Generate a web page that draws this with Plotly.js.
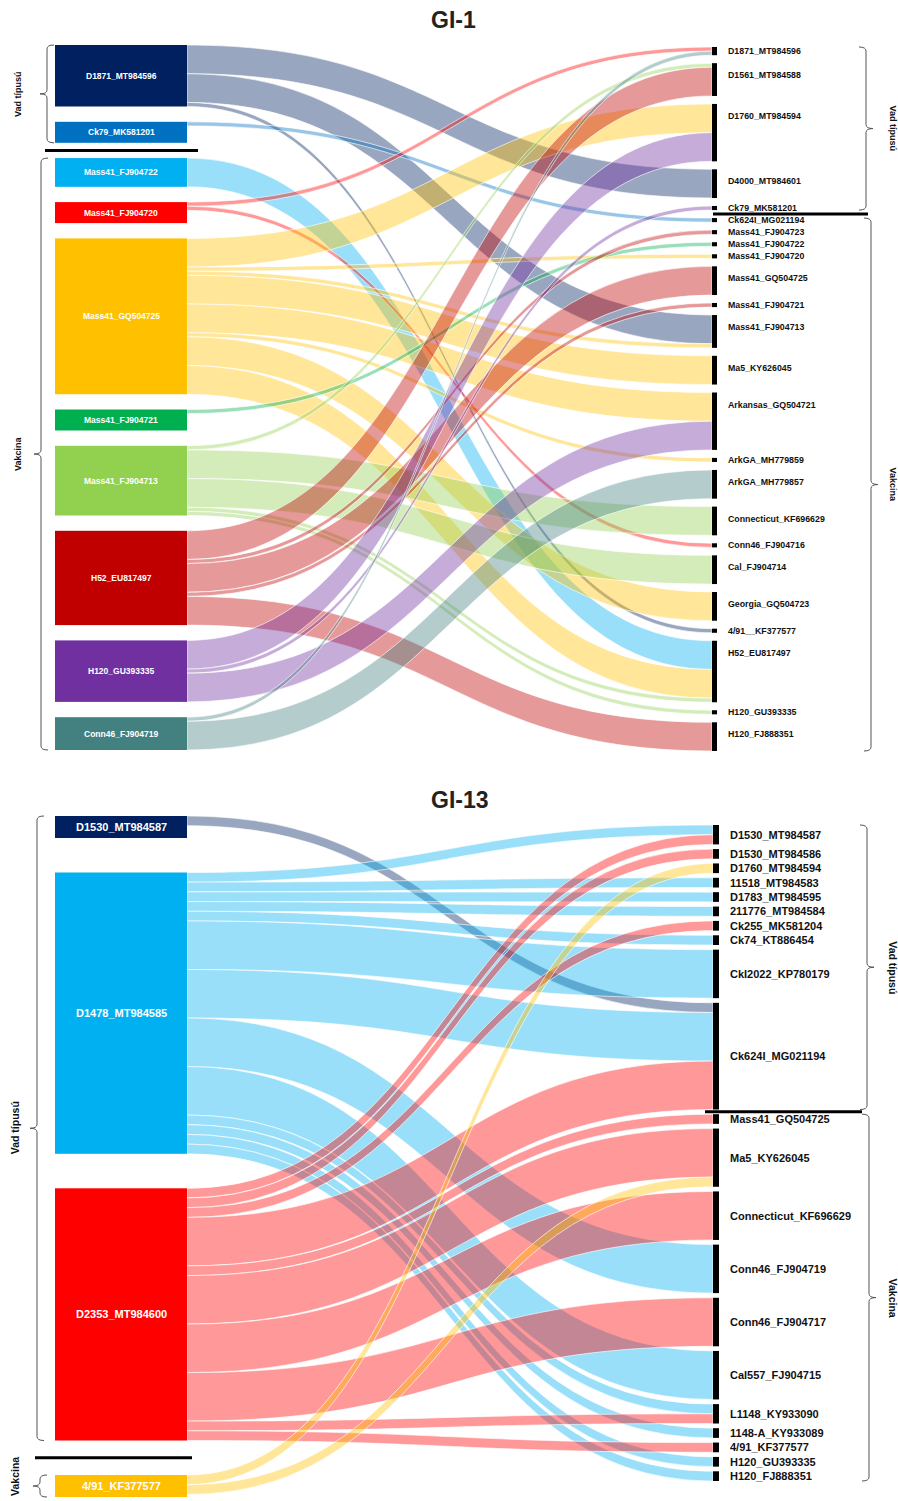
<!DOCTYPE html>
<html><head><meta charset="utf-8">
<script src="https://cdn.plot.ly/plotly-3.0.1.min.js"></script>
<style>html,body{margin:0;padding:0;background:#fff}#chart{width:898px;height:1501px}</style>
</head><body><div id="chart"></div>
<script>
// ================= DATA: GI-1 =================
const gi1Left = ['D1871_MT984596','Ck79_MK581201','Mass41_FJ904722','Mass41_FJ904720','Mass41_GQ504725','Mass41_FJ904721','Mass41_FJ904713','H52_EU817497','H120_GU393335','Conn46_FJ904719'];
const gi1LeftGroup = ['Vad típusú','Vad típusú','Vakcina','Vakcina','Vakcina','Vakcina','Vakcina','Vakcina','Vakcina','Vakcina'];
const gi1LeftColor = ['#002060','#0070C0','#00B0F0','#FF0000','#FFC000','#00B050','#92D050','#C00000','#7030A0','#438080'];
const gi1Right = ['D1871_MT984596','D1561_MT984588','D1760_MT984594','D4000_MT984601','Ck79_MK581201','Ck624I_MG021194','Mass41_FJ904723','Mass41_FJ904722','Mass41_FJ904720','Mass41_GQ504725','Mass41_FJ904721','Mass41_FJ904713','Ma5_KY626045','Arkansas_GQ504721','ArkGA_MH779859','ArkGA_MH779857','Connecticut_KF696629','Conn46_FJ904716','Cal_FJ904714','Georgia_GQ504723','4/91__KF377577','H52_EU817497','H120_GU393335','H120_FJ888351'];
const gi1RightGroup = ['Vad típusú','Vad típusú','Vad típusú','Vad típusú','Vad típusú','Vakcina','Vakcina','Vakcina','Vakcina','Vakcina','Vakcina','Vakcina','Vakcina','Vakcina','Vakcina','Vakcina','Vakcina','Vakcina','Vakcina','Vakcina','Vakcina','Vakcina','Vakcina','Vakcina'];
const gi1Source = ['D1871_MT984596','D1871_MT984596','D1871_MT984596','Ck79_MK581201','Mass41_FJ904722','Mass41_FJ904720','Mass41_FJ904720','Mass41_GQ504725','Mass41_GQ504725','Mass41_GQ504725','Mass41_GQ504725','Mass41_GQ504725','Mass41_GQ504725','Mass41_GQ504725','Mass41_GQ504725','Mass41_FJ904721','Mass41_FJ904713','Mass41_FJ904713','Mass41_FJ904713','Mass41_FJ904713','Mass41_FJ904713','H52_EU817497','H52_EU817497','H52_EU817497','H52_EU817497','H52_EU817497','H120_GU393335','H120_GU393335','H120_GU393335','Conn46_FJ904719','Conn46_FJ904719'];
const gi1Target = ['D4000_MT984601','Mass41_FJ904713','4/91__KF377577','Ck624I_MG021194','H52_EU817497','D1871_MT984596','Conn46_FJ904716','D1760_MT984594','Mass41_FJ904720','Mass41_FJ904713','Ma5_KY626045','Arkansas_GQ504721','ArkGA_MH779859','Georgia_GQ504723','H52_EU817497','Mass41_FJ904722','D1561_MT984588','Connecticut_KF696629','Cal_FJ904714','H52_EU817497','H120_GU393335','D1561_MT984588','Mass41_FJ904723','Mass41_GQ504725','Mass41_FJ904721','H120_FJ888351','D1760_MT984594','Ck79_MK581201','Arkansas_GQ504721','D1871_MT984596','ArkGA_MH779857'];
const gi1Value = [7,7,1,1,7,1,1,7,1,1,7,7,1,7,7,1,1,7,7,1,1,7,1,7,1,7,7,1,7,1,7];

// ================= DATA: GI-13 =================
const gi13Left = ['D1530_MT984587','D1478_MT984585','D2353_MT984600','4/91_KF377577'];
const gi13LeftGroup = ['Vad típusú','Vad típusú','Vad típusú','Vakcina'];
const gi13LeftColor = ['#002060','#00B0F0','#FF0000','#FFC000'];
const gi13Right = ['D1530_MT984587','D1530_MT984586','D1760_MT984594','11518_MT984583','D1783_MT984595','211776_MT984584','Ck255_MK581204','Ck74_KT886454','CkI2022_KP780179','Ck624I_MG021194','Mass41_GQ504725','Ma5_KY626045','Connecticut_KF696629','Conn46_FJ904719','Conn46_FJ904717','Cal557_FJ904715','L1148_KY933090','1148-A_KY933089','4/91_KF377577','H120_GU393335','H120_FJ888351'];
const gi13RightGroup = ['Vad típusú','Vad típusú','Vad típusú','Vad típusú','Vad típusú','Vad típusú','Vad típusú','Vad típusú','Vad típusú','Vad típusú','Vakcina','Vakcina','Vakcina','Vakcina','Vakcina','Vakcina','Vakcina','Vakcina','Vakcina','Vakcina','Vakcina'];
const gi13Source = ['D1530_MT984587','D1478_MT984585','D1478_MT984585','D1478_MT984585','D1478_MT984585','D1478_MT984585','D1478_MT984585','D1478_MT984585','D1478_MT984585','D1478_MT984585','D1478_MT984585','D1478_MT984585','D1478_MT984585','D1478_MT984585','D2353_MT984600','D2353_MT984600','D2353_MT984600','D2353_MT984600','D2353_MT984600','D2353_MT984600','D2353_MT984600','D2353_MT984600','D2353_MT984600','D2353_MT984600','4/91_KF377577','4/91_KF377577'];
const gi13Target = ['Ck624I_MG021194','D1530_MT984587','11518_MT984583','D1783_MT984595','211776_MT984584','Ck74_KT886454','CkI2022_KP780179','Ck624I_MG021194','Conn46_FJ904719','Cal557_FJ904715','L1148_KY933090','1148-A_KY933089','H120_GU393335','H120_FJ888351','D1530_MT984587','D1530_MT984586','Ck255_MK581204','Ck624I_MG021194','Mass41_GQ504725','Ma5_KY626045','Connecticut_KF696629','Conn46_FJ904717','L1148_KY933090','4/91_KF377577','D1760_MT984594','Ma5_KY626045'];
const gi13Value = [1,1,1,1,1,1,5,5,5,5,1,1,1,1,1,1,1,5,1,5,5,5,1,1,1,1];

// ================= RENDERING =================
const FONT = 'Liberation Sans, Arial, sans-serif';
const W = 898, HT = 1501;
const X = p => p / W, Y = p => 1 - p / HT;
const sum = a => a.reduce((s, v) => s + v, 0);
const CLEAR = 'rgba(0,0,0,0)';
function rgba(hex, a) { const n = parseInt(hex.slice(1), 16); return `rgba(${(n >> 16) & 255},${(n >> 8) & 255},${n & 255},${a})`; }

const diagrams = [
  { title: 'GI-1', titleX: 453, titleY: 20,
    left: gi1Left, leftGroup: gi1LeftGroup, leftColor: gi1LeftColor, right: gi1Right, rightGroup: gi1RightGroup,
    src: gi1Source, tgt: gi1Target, val: gi1Value,
    domTop: 45, domBottom: 752, leftTop: 45, leftBottom: 750, rightTop: 47, rightBottom: 751,
    unitPx: 4.1, minBoxPx: 21, boxLeft: 55, boxWidth: 132, barLeft: 712, barWidth: 5,
    labelX: 726, labelSize: 8.8, boxLabelSize: 8.5, labelCap: 12,
    sepLeft: [45, 198], sepRight: [713, 868],
    braceLeftX: { 'Vad típusú': 47, 'Vakcina': 41 }, braceRightX: { 'Vad típusú': 866, 'Vakcina': 871 },
    braceLabelLeftX: 18, braceLabelRightX: 893, braceLabelSize: 9 },
  { title: 'GI-13', titleX: 460, titleY: 800,
    left: gi13Left, leftGroup: gi13LeftGroup, leftColor: gi13LeftColor, right: gi13Right, rightGroup: gi13RightGroup,
    src: gi13Source, tgt: gi13Target, val: gi13Value,
    domTop: 816, domBottom: 1497, leftTop: 816, leftBottom: 1497, rightTop: 825, rightBottom: 1481,
    unitPx: 9.7, minBoxPx: 22, boxLeft: 55, boxWidth: 132, barLeft: 713, barWidth: 6,
    labelX: 728, labelSize: 11, boxLabelSize: 11, labelCap: Infinity,
    sepLeft: [35, 192], sepRight: [705, 862],
    braceLeftX: { 'Vad típusú': 37, 'Vakcina': 40 }, braceRightX: { 'Vad típusú': 867, 'Vakcina': 869 },
    braceLabelLeftX: 15, braceLabelRightX: 893, braceLabelSize: 10.5 }
];

const traces = [], annotations = [], shapes = [];

function bracePath(x, top, bot, dir) {
  const mid = (top + bot) / 2, hook = 7 * dir, tip = 7 * dir, r = 4;
  return `M${X(x + hook)},${Y(top)} Q${X(x)},${Y(top)} ${X(x)},${Y(top + r)} L${X(x)},${Y(mid - r)} ` +
    `Q${X(x)},${Y(mid)} ${X(x - tip)},${Y(mid)} Q${X(x)},${Y(mid)} ${X(x)},${Y(mid + r)} ` +
    `L${X(x)},${Y(bot - r)} Q${X(x)},${Y(bot)} ${X(x + hook)},${Y(bot)}`;
}
function groupsOf(arr) {
  const out = [];
  arr.forEach((g, i) => {
    if (!out.length || out[out.length - 1].name !== g) out.push({ name: g, first: i, last: i });
    else out[out.length - 1].last = i;
  });
  return out;
}

diagrams.forEach(d => {
  const nL = d.left.length, nR = d.right.length, H = d.domBottom - d.domTop;
  const si = d.src.map(s => d.left.indexOf(s)), ti = d.tgt.map(t => d.right.indexOf(t));
  const outS = Array(nL).fill(0), inS = Array(nR).fill(0);
  d.val.forEach((v, i) => { outS[si[i]] += v; inS[ti[i]] += v; });
  const rightTotal = sum(inS);
  const pad = (H - d.unitPx * rightTotal) / (nR - 1);
  const leftVal = outS.map(v => Math.max(v, d.minBoxPx / d.unitPx));
  const leftTotal = sum(leftVal);
  const ky = Math.min((H - (nR - 1) * pad) / rightTotal, (H - (nL - 1) * pad) / leftTotal, H / leftTotal);
  const hL = leftVal.map(v => v * ky), hR = inS.map(v => v * ky);
  const stack = (h, a, b) => { const g = (b - a - sum(h)) / (h.length - 1); let y = a; return h.map(v => { const t = y; y += v + g; return t; }); };
  const tL = stack(hL, d.leftTop, d.leftBottom), tR = stack(hR, d.rightTop, d.rightBottom);
  const cL = tL.map((t, i) => t + hL[i] / 2), cR = tR.map((t, i) => t + hR[i] / 2);
  const dummy = nL + nR;
  const nodeY = [...cL, ...cR, (d.domTop + d.domBottom) / 2].map(p => (p - d.domTop) / H);
  const source = [...si, ...leftVal.map(() => dummy)];
  const target = [...ti.map(i => i + nL), ...leftVal.map((_, i) => i)];
  const value = [...d.val, ...leftVal];
  const leftCenter = d.boxLeft + d.boxWidth / 2;

  const mk = (thick, rightCenterPx, nodeColor, linkColor, lineColor, lineWidth) => ({
    type: 'sankey', arrangement: 'fixed', orientation: 'h', hoverinfo: 'none',
    domain: { x: [0, 1], y: [Y(d.domBottom), Y(d.domTop)] },
    node: { label: Array(nL + nR + 1).fill(''), pad: pad, thickness: thick,
      x: [...cL.map(() => X(leftCenter)), ...cR.map(() => X(rightCenterPx)), X(leftCenter - thick)],
      y: nodeY, color: nodeColor, line: { width: 0, color: CLEAR }, hoverinfo: 'none' },
    link: { source, target, value, color: linkColor, line: { color: lineColor, width: lineWidth }, hoverinfo: 'none' }
  });

  traces.push(mk(d.boxWidth, d.barLeft + d.boxWidth / 2,
    [...d.leftColor, ...Array(nR).fill(CLEAR), CLEAR],
    [...si.map(i => rgba(d.leftColor[i], 0.4)), ...leftVal.map(() => CLEAR)],
    'rgba(255,255,255,0.9)', 0.7));
  traces.push(mk(d.barWidth, d.barLeft + d.barWidth / 2,
    [...Array(nL).fill(CLEAR), ...Array(nR).fill('#000'), CLEAR],
    Array(value.length).fill(CLEAR), CLEAR, 0));

  d.left.forEach((name, i) => annotations.push({ x: X(leftCenter), y: Y(cL[i]), xref: 'paper', yref: 'paper',
    text: `<b>${name}</b>`, showarrow: false, xanchor: 'center', yanchor: 'middle',
    font: { family: FONT, size: d.boxLabelSize, color: '#ffffff' } }));
  d.right.forEach((name, i) => annotations.push({ x: X(d.labelX), y: Y(tR[i] + Math.min(hR[i] / 2, d.labelCap)), xref: 'paper', yref: 'paper',
    text: `<b>${name}</b>`, showarrow: false, xanchor: 'left', yanchor: 'middle',
    font: { family: FONT, size: d.labelSize, color: '#111111' } }));
  annotations.push({ x: X(d.titleX), y: Y(d.titleY), xref: 'paper', yref: 'paper', text: `<b>${d.title}</b>`,
    showarrow: false, xanchor: 'center', yanchor: 'middle', font: { family: FONT, size: 23, color: '#222222' } });

  const braceLabel = (xpx, ypx, name, angle) => {
    const half = name.length * d.braceLabelSize * 0.3 + 2;
    const yy = Math.min(Math.max(ypx, half), HT - half);
    annotations.push({ x: X(xpx), y: Y(yy), xref: 'paper', yref: 'paper', text: `<b>${name}</b>`,
      textangle: angle, showarrow: false, xanchor: 'center', yanchor: 'middle', font: { family: FONT, size: d.braceLabelSize, color: '#111111' } });
  };

  groupsOf(d.leftGroup).forEach((g, k) => {
    const top = tL[g.first], bot = tL[g.last] + hL[g.last];
    shapes.push({ type: 'path', xref: 'paper', yref: 'paper', path: bracePath(d.braceLeftX[g.name], top, bot, 1), line: { color: '#555555', width: 1 } });
    braceLabel(d.braceLabelLeftX, (top + bot) / 2, g.name, -90);
    if (k > 0) {
      const yy = (tL[g.first] + tL[g.first - 1] + hL[g.first - 1]) / 2;
      shapes.push({ type: 'line', xref: 'paper', yref: 'paper', x0: X(d.sepLeft[0]), x1: X(d.sepLeft[1]), y0: Y(yy), y1: Y(yy), line: { color: '#000000', width: 3 } });
    }
  });
  groupsOf(d.rightGroup).forEach((g, k) => {
    const top = tR[g.first], bot = tR[g.last] + hR[g.last];
    shapes.push({ type: 'path', xref: 'paper', yref: 'paper', path: bracePath(d.braceRightX[g.name], top, bot, -1), line: { color: '#555555', width: 1 } });
    braceLabel(d.braceLabelRightX, (top + bot) / 2, g.name, 90);
    if (k > 0) {
      const yy = (tR[g.first] + tR[g.first - 1] + hR[g.first - 1]) / 2;
      shapes.push({ type: 'line', xref: 'paper', yref: 'paper', x0: X(d.sepRight[0]), x1: X(d.sepRight[1]), y0: Y(yy), y1: Y(yy), line: { color: '#000000', width: 3 } });
    }
  });
});

Plotly.newPlot('chart', traces, {
  width: W, height: HT, margin: { l: 0, r: 0, t: 0, b: 0 },
  paper_bgcolor: '#ffffff', plot_bgcolor: '#ffffff', showlegend: false,
  font: { family: FONT }, annotations, shapes
}, { staticPlot: true, displayModeBar: false });
</script>
</body></html>
